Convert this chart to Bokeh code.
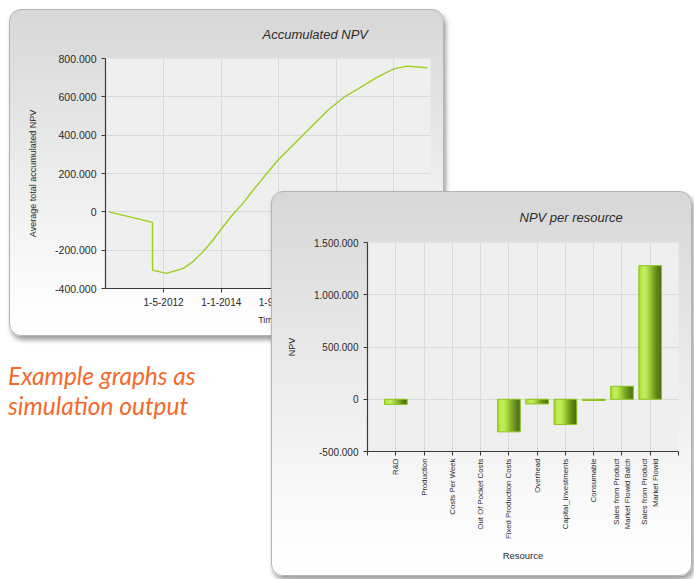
import math
import pandas as pd
from bokeh.plotting import figure
from bokeh.models import (ColumnDataSource, Range1d, FixedTicker, Div, Column,
                          CDSView, BooleanFilter)
from bokeh.transform import dodge
from bokeh.embed import file_html
from bokeh.resources import INLINE

# ---------------- data: Accumulated NPV ----------------
npv_dates = ["2010-10-01", "2011-09-28", "2012-01-05", "2012-01-05", "2012-06-01",
             "2012-11-25", "2013-03-08", "2013-06-22", "2013-10-06", "2014-01-19",
             "2014-05-03", "2014-08-18", "2014-12-18", "2015-08-21", "2016-02-15",
             "2016-08-07", "2017-02-01", "2017-07-25", "2018-01-16", "2018-07-10",
             "2019-01-04", "2019-05-22", "2019-12-19"]
npv_values = [0, -43000, -55000, -304000, -321000,
              -295000, -260000, -208000, -147000, -78000,
              -14000, 44000, 122000, 269000, 356000,
              443000, 530000, 599000, 651000, 703000,
              747000, 760000, 752000]
time_tick_dates = ["2012-05-01", "2014-01-01", "2015-09-01", "2017-05-01", "2019-01-01"]
time_tick_labels = ["1-5-2012", "1-1-2014", "1-9-2015", "1-5-2017", "1-1-2019"]
npv_ticks = [-400000, -200000, 0, 200000, 400000, 600000, 800000]
npv_tick_labels = ["-400.000", "-200.000", "0", "200.000", "400.000", "600.000", "800.000"]
time_start, time_end = "2010-08-26", "2020-01-22"

# ---------------- data: NPV per resource ----------------
resources = ["R&D", "Production", "Costs Per Week", "Out Of Pocket Costs",
             "Fixed Production Costs", "Overhead", "Capital_Investments", "Consumable",
             "Sales from Product\nMarket Flowid Batch", "Sales from Product\nMarket Flowid"]
npv_per_resource = [-50000, 0, 0, 0, -312000, -45000, -242000, -12000, 124000, 1278000]
res_ticks = [-500000, 0, 500000, 1000000, 1500000]
res_tick_labels = ["-500.000", "0", "500.000", "1.000.000", "1.500.000"]

FONT = "Liberation Sans"
AXIS_COL = "#3a3a3a"
TXT_COL = "#2a2a2a"

panel_styles = {
    "border-radius": "12px",
    "border": "1px solid #b4b4b4",
    "background": "linear-gradient(to bottom, #d7d7d7 0%, #e8e8e8 40%, #fbfbfb 85%, #ffffff 100%)",
    "box-shadow": "2px 4px 5px rgba(0,0,0,0.38)",
    "overflow": "hidden",
}


def style_axis(ax, size):
    ax.axis_line_color = AXIS_COL
    ax.axis_line_width = 1.2
    ax.major_tick_line_color = AXIS_COL
    ax.major_tick_out = 4
    ax.major_tick_in = 0
    ax.minor_tick_line_color = None
    ax.major_label_text_font = FONT
    ax.major_label_text_font_size = size
    ax.major_label_text_color = TXT_COL
    ax.axis_label_text_font = FONT
    ax.axis_label_text_font_size = "9px"
    ax.axis_label_text_font_style = "normal"
    ax.axis_label_text_color = TXT_COL


def style_title(t, offset, standoff):
    t.align = "left"
    t.vertical_align = "top"
    t.offset = offset
    t.standoff = standoff
    t.text_font = FONT
    t.text_font_style = "italic"
    t.text_font_size = "13px"
    t.text_color = TXT_COL


def ms(d):
    return int(pd.Timestamp(d).value // 10**6)


# ---------------- figure 1 ----------------
p1 = figure(width=435, height=327, x_axis_type="datetime",
            x_range=Range1d(pd.Timestamp(time_start), pd.Timestamp(time_end)),
            y_range=Range1d(npv_ticks[0], npv_ticks[-1]),
            output_backend="svg", toolbar_location=None,
            min_border_left=92, min_border_right=15, min_border_top=48, min_border_bottom=49,
            background_fill_color="#efefef", border_fill_alpha=0, outline_line_color=None,
            margin=(9, 0, 0, 9), styles=panel_styles)
p1.title.text = "Accumulated NPV"
style_title(p1.title, 157, 30)

src1 = ColumnDataSource(dict(date=pd.to_datetime(npv_dates), npv=npv_values))
p1.line("date", "npv", source=src1, line_color="#9ccf1c", line_width=1.4)

xt = [ms(d) for d in time_tick_dates]
p1.xaxis.ticker = FixedTicker(ticks=xt)
p1.xaxis.major_label_overrides = dict(zip(xt, time_tick_labels))
p1.xgrid.ticker = FixedTicker(ticks=xt)
p1.yaxis.ticker = FixedTicker(ticks=npv_ticks)
p1.yaxis.major_label_overrides = dict(zip(npv_ticks, npv_tick_labels))
p1.ygrid.ticker = FixedTicker(ticks=npv_ticks)
p1.xaxis.axis_label = "Time"
p1.yaxis.axis_label = "Average total accumulated NPV"
style_axis(p1.xaxis[0], "10px")
style_axis(p1.yaxis[0], "10.5px")
p1.yaxis.axis_label_standoff = 14
p1.xaxis.axis_label_standoff = 6
p1.grid.grid_line_color = "#dadada"

# ---------------- text ----------------
div = Div(text="Example graphs as<br>simulation output", width=260, height=60,
          margin=(25, 0, 0, 8),
          styles={"color": "#f26a2c", "font-family": "Lato", "font-style": "italic",
                  "font-size": "24.5px", "line-height": "30px"})

# ---------------- figure 2 ----------------
n = len(resources)
p2 = figure(width=421, height=385,
            x_range=Range1d(0, n + 1), y_range=Range1d(res_ticks[0], res_ticks[-1]),
            output_backend="svg", toolbar_location=None,
            min_border_left=95, min_border_right=9, min_border_top=50, min_border_bottom=126,
            background_fill_color="#efefef", border_fill_alpha=0, outline_line_color=None,
            margin=(-230, 0, 0, 271), styles=panel_styles)
p2.title.text = "NPV per resource"
style_title(p2.title, 152, 32)

xpos = list(range(1, n + 1))
src2 = ColumnDataSource(dict(x=xpos, top=npv_per_resource, name=resources))
BW = 0.8
shades = ["#a9dc30", "#b8e847", "#c1ee57", "#bfec55", "#b3e049", "#a4d23c",
          "#92c030", "#80ad26", "#6f9b1e", "#608a18", "#547d13", "#4b7110"]
k = len(shades)
sw = BW / k
for i, c in enumerate(shades):
    off = -BW / 2 + (i + 0.5) * sw
    p2.vbar(x=dodge("x", off), top="top", bottom=0, width=sw * 1.25, source=src2,
            fill_color=c, line_color=None)
view = CDSView(filter=BooleanFilter([v != 0 for v in npv_per_resource]))
p2.vbar(x="x", top="top", bottom=0, width=BW, source=src2, view=view,
        fill_color=None, line_color="#8fc41f", line_width=1)

xt2 = list(range(0, n + 2))
p2.xaxis.ticker = FixedTicker(ticks=xt2)
p2.xaxis.major_label_overrides = {t: (resources[t - 1] if 1 <= t <= n else "") for t in xt2}
p2.xaxis.major_label_orientation = math.pi / 2
p2.xgrid.ticker = FixedTicker(ticks=xpos)
p2.yaxis.ticker = FixedTicker(ticks=res_ticks)
p2.yaxis.major_label_overrides = dict(zip(res_ticks, res_tick_labels))
p2.ygrid.ticker = FixedTicker(ticks=res_ticks)
p2.xaxis.axis_label = "Resource"
p2.yaxis.axis_label = "NPV"
style_axis(p2.xaxis[0], "7.8px")
style_axis(p2.yaxis[0], "10px")
p2.xaxis.axis_label_text_font_size = "9.5px"
p2.yaxis.axis_label_standoff = 14
p2.xaxis.axis_label_standoff = 8
p2.xaxis.major_label_standoff = 3
p2.grid.grid_line_color = "#dadada"

layout = Column(children=[p1, div, p2])
open("out.html", "w").write(file_html(layout, INLINE))
